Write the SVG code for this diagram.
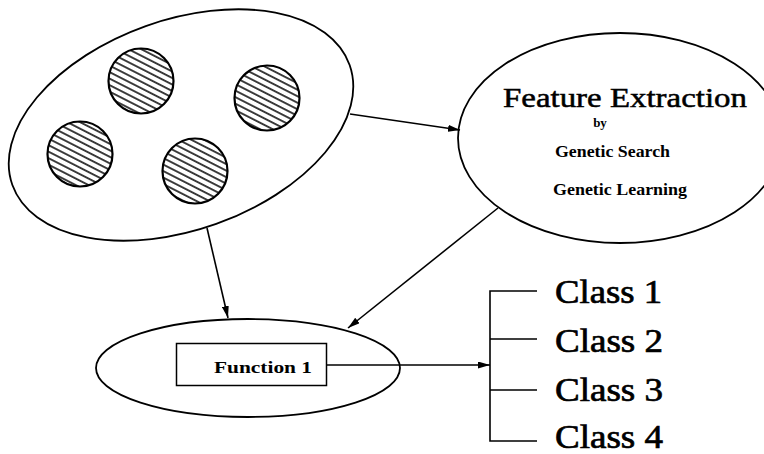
<svg xmlns="http://www.w3.org/2000/svg" width="764" height="454" viewBox="0 0 764 454">
  <style>
    .outline { fill: #fff; stroke: #000; stroke-width: 1.8; }
    .blob { fill: url(#hatch); stroke: #000; stroke-width: 2.2; }
    .edge { fill: none; stroke: #000; stroke-width: 1.6; }
    .arrow { marker-end: url(#head); }
    .title { font-family: "Liberation Serif", "Times New Roman", serif; font-size: 27px; fill: #000; stroke: #000; stroke-width: 0.5; }
    .small { font-family: "Liberation Serif", "Times New Roman", serif; font-size: 16px; font-weight: bold; fill: #000; }
    .cls { font-family: "Liberation Serif", "Times New Roman", serif; font-size: 33px; fill: #000; stroke: #000; stroke-width: 0.7; }
  </style>
  <defs>
    <pattern id="hatch" patternUnits="userSpaceOnUse" width="10" height="5.8" patternTransform="rotate(27)">
      <rect width="10" height="5.8" fill="#fff"/>
      <line x1="0" y1="2.9" x2="10" y2="2.9" stroke="#000" stroke-width="1.5"/>
    </pattern>
    <marker id="head" markerUnits="userSpaceOnUse" markerWidth="12" markerHeight="7" refX="12" refY="3.5" orient="auto">
      <path d="M0,0 L12,3.5 L0,7 Z" fill="#000"/>
    </marker>
  </defs>

  <!-- data set with four hatched clusters -->
  <g id="dataset">
    <ellipse class="outline" cx="181" cy="125" rx="179" ry="105" transform="rotate(-19.6 181 125)"/>
    <circle class="blob" cx="141" cy="81" r="32.5"/>
    <circle class="blob" cx="267" cy="98" r="32.5"/>
    <circle class="blob" cx="80" cy="154" r="32.5"/>
    <circle class="blob" cx="195" cy="171" r="32.5"/>
  </g>

  <!-- feature extraction stage -->
  <g id="extraction">
    <ellipse class="outline" cx="620" cy="138" rx="162" ry="105"/>
    <text class="title" x="503" y="107" textLength="244" lengthAdjust="spacingAndGlyphs">Feature Extraction</text>
    <text class="small" x="600" y="127" text-anchor="middle" style="font-size:13px">by</text>
    <text class="small" x="555" y="157" textLength="115" lengthAdjust="spacingAndGlyphs">Genetic Search</text>
    <text class="small" x="553" y="195" textLength="134" lengthAdjust="spacingAndGlyphs">Genetic Learning</text>
  </g>

  <!-- classifier stage -->
  <g id="classifier">
    <ellipse class="outline" cx="248" cy="368" rx="152" ry="49"/>
    <rect x="176.5" y="343.5" width="150" height="42" fill="#fff" stroke="#000" stroke-width="1.5"/>
    <text class="small" x="214" y="373" textLength="98" lengthAdjust="spacingAndGlyphs" style="font-size:17px">Function 1</text>
  </g>

  <!-- output classes -->
  <g id="classes">
    <text class="cls" x="555" y="303" textLength="107" lengthAdjust="spacingAndGlyphs">Class 1</text>
    <text class="cls" x="555" y="352" textLength="108" lengthAdjust="spacingAndGlyphs">Class 2</text>
    <text class="cls" x="555" y="401" textLength="108" lengthAdjust="spacingAndGlyphs">Class 3</text>
    <text class="cls" x="555" y="448" textLength="108" lengthAdjust="spacingAndGlyphs">Class 4</text>
  </g>

  <!-- connectors -->
  <g id="connectors">
    <line class="edge arrow" x1="350" y1="114" x2="460" y2="130"/>
    <line class="edge arrow" x1="207" y1="228" x2="228" y2="318"/>
    <line class="edge arrow" x1="498" y1="208" x2="348" y2="328"/>
    <line class="edge arrow" x1="327" y1="365" x2="490" y2="365"/>
    <path class="edge" d="M537,291 H490 V441 H537 M490,339 H537 M490,390 H537"/>
  </g>
</svg>
